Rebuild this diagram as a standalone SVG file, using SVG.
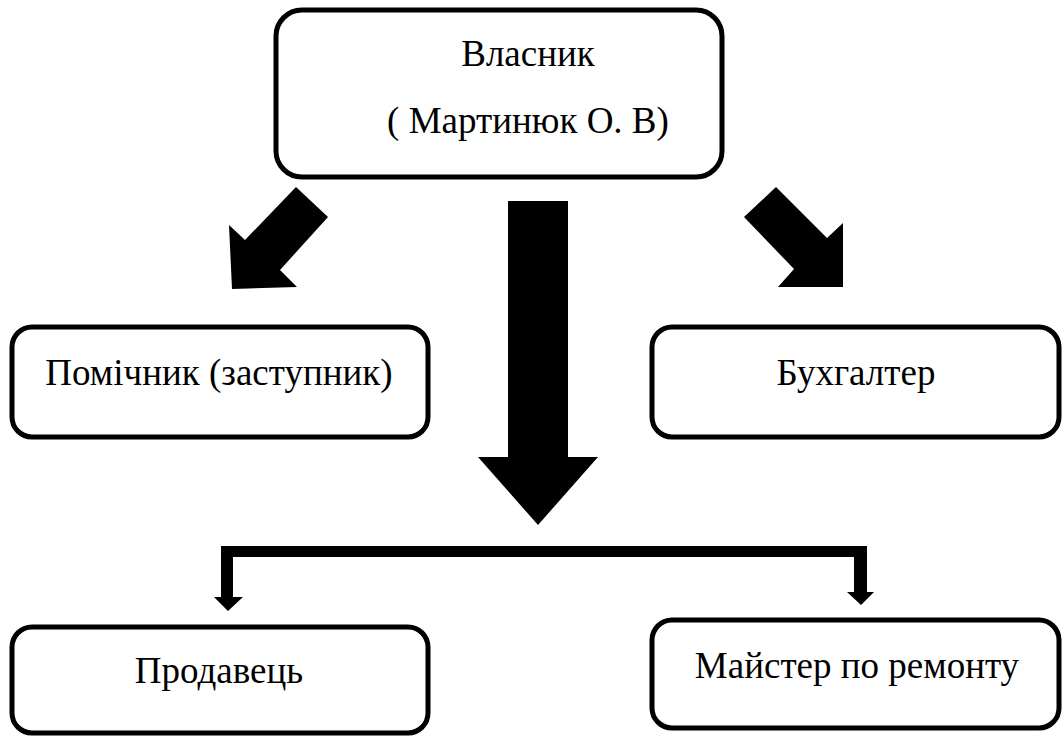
<svg xmlns="http://www.w3.org/2000/svg" width="1062" height="736" viewBox="0 0 1062 736">
<style>
.box{fill:#fff;stroke:#000;stroke-width:5}
.lbl{font-family:"Liberation Serif","Times New Roman","DejaVu Serif",serif;font-size:37px;fill:#000;text-anchor:middle}
.arr{fill:#000;stroke:none}
</style>
<rect width="1062" height="736" fill="#fff"/>
<g id="connectors">
<polygon class="arr" points="296,187 328,217 280,270 297,287 232,289 229,225 245,240"/>
<polygon class="arr" points="776,187 744,217 794,269 778,287 843,287 843,223 827,238"/>
<polygon class="arr" points="508,201 568,201 568,457 598,457 538,525 478,457 508,457"/>
<polygon class="arr" points="221,546 867,546 867,592 874,592 861,605 847,592 854,592 854,557 233,557 233,597 243,597 228,611 214,597 221,597"/>
</g>
<g id="owner">
<rect class="box" x="276" y="10" width="446" height="167" rx="26"/>
<text class="lbl" x="528" y="66">Власник</text>
<text class="lbl" x="528" y="133">( Мартинюк О. В)</text>
</g>
<g id="assistant">
<rect class="box" x="12" y="327" width="416" height="110" rx="20"/>
<text class="lbl" x="219" y="385">Помічник (заступник)</text>
</g>
<g id="accountant">
<rect class="box" x="652" y="327" width="407" height="110" rx="20"/>
<text class="lbl" x="856" y="385">Бухгалтер</text>
</g>
<g id="seller">
<rect class="box" x="12" y="627" width="416" height="106" rx="20"/>
<text class="lbl" x="219" y="683">Продавець</text>
</g>
<g id="repair">
<rect class="box" x="652" y="620" width="407" height="108" rx="20"/>
<text class="lbl" x="857" y="678">Майстер по ремонту</text>
</g>
</svg>
